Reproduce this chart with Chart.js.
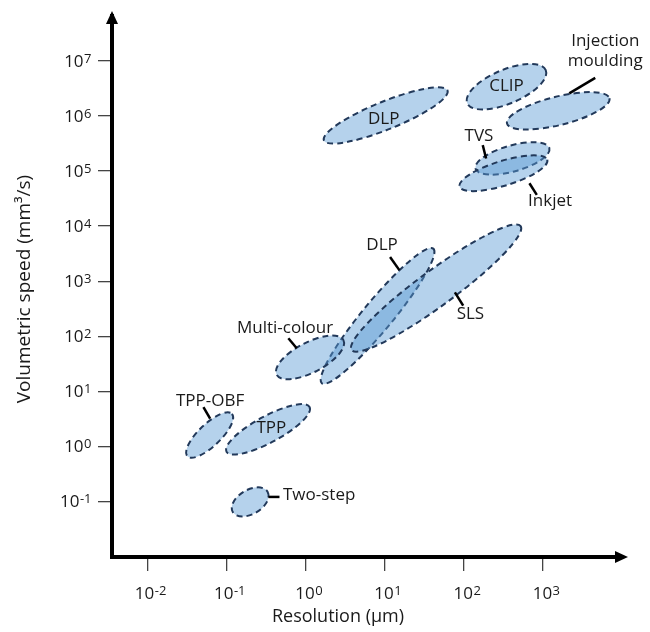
<!DOCTYPE html>
<html>
<head>
<meta charset="utf-8">
<script src="https://cdn.jsdelivr.net/npm/chart.js@4.4.1/dist/chart.umd.min.js"></script>
<style>
  body { margin: 0; background: #fff; }
  #wrap { width: 650px; height: 632px; }
</style>
</head>
<body>
<div id="wrap"><canvas id="canvas"></canvas></div>
<script>
// each process is a tilted region: two ends of its long axis (resolution um, speed mm3/s) and a breadth
var processes = ['DLP', 'CLIP', 'Injection\nmoulding', 'TVS', 'Inkjet', 'DLP', 'SLS', 'Multi-colour', 'TPP-OBF', 'TPP', 'Two-step'];
var resLow    = [1.7,   110,   350,   140,   88,    1.6,  3.8,   0.43, 0.032, 0.1,  0.12];
var resHigh   = [62,    1080,  6900,  1200,  1130,  41,   520,   3.0,  0.117, 1.12, 0.33];
var speedLow  = [3.6e5, 1.7e6, 7.3e5, 1.1e5, 5.2e4, 14,   56,    20,   0.66,  0.8,  0.064];
var speedHigh = [2.9e6, 6.8e6, 2.1e6, 2.6e5, 1.6e5, 3900, 1.0e4, 85,   3.9,   5.2,  0.15];
var breadth   = [0.21,  0.4,   0.27,  0.34,  0.27,  0.17, 0.17,  0.4,  0.36,  0.28, 0.6];

var xTickExp = [-2, -1, 0, 1, 2, 3];
var yTickExp = [-1, 0, 1, 2, 3, 4, 5, 6, 7];

// where each label sits, in pixels from the middle of its region (text centre, then leader line)
var labelPos = [
  { dx: -2, dy: 4 },
  { dx: 0, dy: -1 },
  { dx: 47, dy: -60, line: [37, -33, 11, -17.5] },
  { dx: -33.5, dy: -22, line: [-29.7, -13.3, -26.3, 0] },
  { dx: 46.7, dy: 27.7, line: [26, 10, 33.4, 21.7] },
  { dx: 4.5, dy: -71, line: [12.5, -59, 21.8, -45.8] },
  { dx: 34.3, dy: 26.5, line: [18.8, 4.2, 27.1, 17.5] },
  { dx: -25, dy: -29.5, line: [-21.7, -19.2, -13.3, -9.2] },
  { dx: 0.5, dy: -33.7, line: [-6.2, -28, 0.5, -16.4] },
  { dx: 3.3, dy: -1.2 },
  { dx: 69, dy: -6.7, line: [18.3, -5, 29.3, -5] }
];

var FONT = '"Open Sans", sans-serif';
var fillCol = 'rgba(91,155,213,0.45)';
var edgeCol = '#22395a';
var textCol = '#1a1a1a';

var datasets = processes.map(function (p, i) {
  return {
    label: p,
    data: [{ x: resLow[i], y: speedLow[i] }, { x: resHigh[i], y: speedHigh[i] }],
    breadth: breadth[i],
    pointRadius: 0,
    showLine: false
  };
});

var regions = {
  id: 'regions',
  beforeDatasetsDraw(chart) {
    var ctx = chart.ctx;
    chart.data.datasets.forEach(function (ds, i) {
      var pts = chart.getDatasetMeta(i).data;
      var a = pts[0], b = pts[1];
      var len = Math.hypot(b.x - a.x, b.y - a.y);
      var ang = Math.atan2(b.y - a.y, b.x - a.x);
      ctx.save();
      ctx.beginPath();
      ctx.ellipse((a.x + b.x) / 2, (a.y + b.y) / 2, len / 2, len / 2 * ds.breadth, ang, 0, 2 * Math.PI);
      ctx.fillStyle = fillCol;
      ctx.fill();
      ctx.setLineDash([6, 4]);
      ctx.lineWidth = 2;
      ctx.strokeStyle = edgeCol;
      ctx.stroke();
      ctx.restore();
    });
  },
  afterDatasetsDraw(chart) {
    var ctx = chart.ctx;
    chart.data.datasets.forEach(function (ds, i) {
      var pts = chart.getDatasetMeta(i).data;
      var cx = (pts[0].x + pts[1].x) / 2, cy = (pts[0].y + pts[1].y) / 2;
      var lp = labelPos[i];
      ctx.save();
      if (lp.line) {
        ctx.beginPath();
        ctx.moveTo(cx + lp.line[0], cy + lp.line[1]);
        ctx.lineTo(cx + lp.line[2], cy + lp.line[3]);
        ctx.lineWidth = 2.5;
        ctx.strokeStyle = '#000';
        ctx.stroke();
      }
      ctx.font = '17px ' + FONT;
      ctx.fillStyle = textCol;
      ctx.textAlign = 'center';
      ctx.textBaseline = 'middle';
      var lines = ds.label.split('\n');
      lines.forEach(function (t, k) {
        ctx.fillText(t, cx + lp.dx, cy + lp.dy + (k - (lines.length - 1) / 2) * 20);
      });
      ctx.restore();
    });
  }
};

function power(ctx, exp, x, y, align) {
  ctx.font = '17px ' + FONT;
  var w1 = ctx.measureText('10').width;
  ctx.font = '13px ' + FONT;
  var w2 = ctx.measureText(String(exp)).width;
  var x0 = align === 'right' ? x - w1 - w2 : x - (w1 + w2) / 2;
  ctx.textAlign = 'left';
  ctx.textBaseline = 'alphabetic';
  ctx.font = '17px ' + FONT;
  ctx.fillText('10', x0, y + 6.5);
  ctx.font = '13px ' + FONT;
  ctx.fillText(String(exp), x0 + w1 + 0.5, y + 2.5);
}

var axisDeco = {
  id: 'axisDeco',
  afterDraw(chart) {
    var ctx = chart.ctx, a = chart.chartArea;
    var xs = chart.scales.x, ys = chart.scales.y;
    ctx.save();
    ctx.fillStyle = textCol;
    xTickExp.forEach(function (e) {
      power(ctx, e, xs.getPixelForValue(Math.pow(10, e)) + 3, 592, 'center');
    });
    yTickExp.forEach(function (e) {
      power(ctx, e, 91, ys.getPixelForValue(Math.pow(10, e)) - 0.5, 'right');
    });
    // arrow heads
    ctx.fillStyle = '#000';
    ctx.beginPath();
    ctx.moveTo(a.left, a.top - 5);
    ctx.lineTo(a.left - 6, a.top + 8);
    ctx.lineTo(a.left + 6, a.top + 8);
    ctx.closePath();
    ctx.fill();
    ctx.beginPath();
    ctx.moveTo(a.right + 6, a.bottom);
    ctx.lineTo(a.right - 7, a.bottom - 6);
    ctx.lineTo(a.right - 7, a.bottom + 6);
    ctx.closePath();
    ctx.fill();
    // axis titles
    ctx.fillStyle = textCol;
    ctx.font = '18px ' + FONT;
    ctx.textAlign = 'center';
    ctx.textBaseline = 'middle';
    ctx.fillText('Resolution (\u00b5m)', 338, 617);
    ctx.font = '19px ' + FONT;
    ctx.translate(25, 289);
    ctx.rotate(-Math.PI / 2);
    ctx.fillText('Volumetric speed (mm\u00b3/s)', 0, 0);
    ctx.restore();
  }
};

function axis(exps, min, max, fit) {
  return {
    type: 'logarithmic',
    min: min,
    max: max,
    afterBuildTicks: function (s) {
      s.ticks = exps.map(function (e) { return { value: Math.pow(10, e) }; });
    },
    afterFit: fit,
    ticks: { display: false },
    grid: { drawOnChartArea: false, drawTicks: true, tickLength: 14, color: '#444', lineWidth: 1.3 },
    border: { display: true, color: '#000', width: 4 }
  };
}

new Chart(document.getElementById('canvas'), {
  type: 'scatter',
  data: { datasets: datasets },
  options: {
    responsive: true,
    maintainAspectRatio: false,
    animation: false,
    layout: { padding: { top: 16, right: 28, left: 0, bottom: 0 } },
    plugins: { legend: { display: false }, tooltip: { enabled: false } },
    scales: {
      x: axis(xTickExp, Math.pow(10, -2.447), Math.pow(10, 3.997), function (s) { s.height = 75; }),
      y: axis(yTickExp, Math.pow(10, -2.009), Math.pow(10, 7.815), function (s) { s.width = 112; })
    }
  },
  plugins: [regions, axisDeco]
});
</script>
</body>
</html>
